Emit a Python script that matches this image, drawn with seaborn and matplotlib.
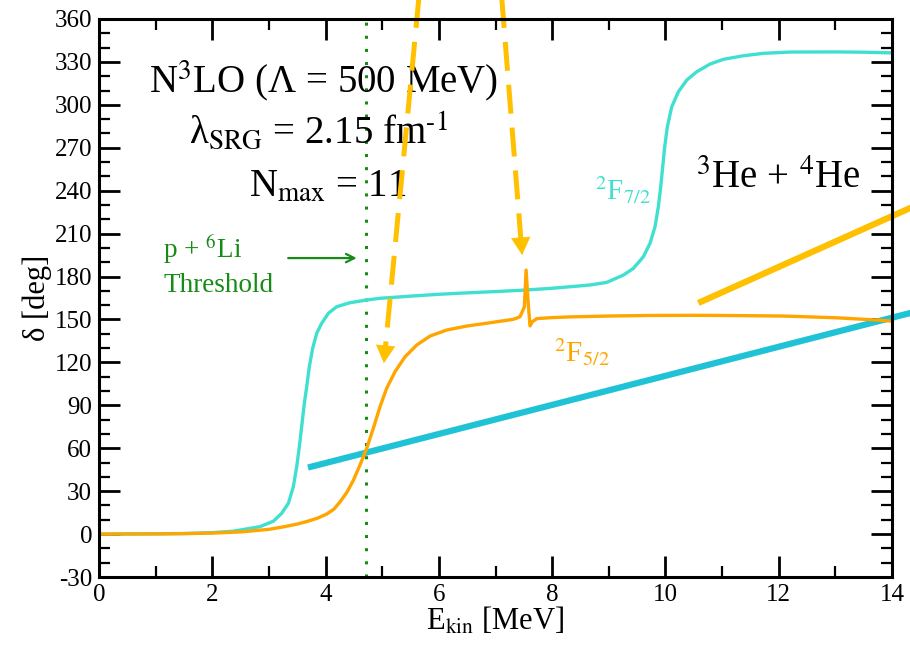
import matplotlib
matplotlib.use("Agg")
import matplotlib.pyplot as plt
import seaborn as sns
import pandas as pd
from matplotlib.ticker import MultipleLocator

# ---------------- data ----------------
f72_x = [0.0, 1.0, 1.5, 2.0, 2.37, 2.489, 2.843, 3.078, 3.225, 3.343, 3.431, 3.490,
         3.537, 3.578, 3.625, 3.667, 3.713, 3.772, 3.843, 3.931, 4.049, 4.196, 4.431,
         4.726, 4.961, 5.5, 6.0, 6.5, 7.0, 7.5, 8.0, 8.5, 8.669, 8.963, 9.257, 9.434,
         9.610, 9.728, 9.816, 9.875, 9.917, 9.952, 9.987, 10.034, 10.111, 10.228,
         10.376, 10.552, 10.787, 11.022, 11.375, 11.729, 12.2, 13.0, 13.5, 14.0]
f72_y = [0.0, 0.2, 0.4, 1.0, 2.0, 2.8, 5.2, 9.0, 14.5, 21.5, 33.1, 47.1,
         61.1, 75.0, 91.4, 103.0, 117.0, 129.8, 140.3, 147.3, 154.3, 158.9, 161.7,
         163.6, 164.8, 166.3, 167.6, 168.6, 169.5, 170.5, 171.8, 173.5, 174.1, 175.9,
         181.0, 185.7, 193.8, 203.2, 214.8, 228.8, 242.8, 256.7, 270.7, 284.7, 298.6,
         309.1, 317.3, 323.1, 328.5, 331.8, 334.3, 336.0, 336.9, 337.0, 336.8, 336.3]

f52_x = [0.0, 1.0, 1.5, 2.0, 2.5, 3.0, 3.25, 3.5, 3.67, 3.85, 4.02, 4.15, 4.255,
         4.373, 4.49, 4.608, 4.726, 4.843, 4.961, 5.079, 5.226, 5.403, 5.609, 5.844,
         6.139, 6.492, 6.903, 7.315, 7.43, 7.46, 7.51, 7.54, 7.58, 7.61, 7.65, 7.73,
         8.0, 8.32, 9.0, 9.73, 10.5, 11.0, 12.08, 13.0, 13.74, 14.0]
f52_y = [0.0, 0.1, 0.3, 0.7, 1.5, 3.3, 5.0, 7.0, 8.8, 11.0, 14.0, 17.5, 22.5,
         29.0, 37.5, 48.3, 59.9, 73.9, 89.0, 101.9, 113.5, 123.9, 132.1, 138.4,
         142.6, 145.4, 147.7, 150.1, 151.8, 154.3, 158.9, 184.5, 160.0, 145.5, 148.4,
         150.6, 151.3, 151.8, 152.4, 152.8, 152.9, 152.8, 152.4, 151.2, 149.6, 148.8]

blue_line_x = [3.69, 14.4]
blue_line_y = [46.5, 155.3]
amber_line_x = [10.58, 14.4]
amber_line_y = [161.5, 229.3]

threshold_x = 4.71

# dashed arrows: (start, tip)
arrow1 = [(5.66, 380.0), (5.03, 119.5)]
arrow2 = [(7.10, 380.0), (7.47, 195.0)]
green_arrow = [(3.34, 192.9), (4.55, 192.9)]

x_ticks = [0, 2, 4, 6, 8, 10, 12, 14]
y_ticks = list(range(-30, 361, 30))

# ---------------- styling ----------------
sns.set_theme(style="ticks")
plt.rcParams['font.family'] = ['Liberation Serif', 'DejaVu Serif']
plt.rcParams['mathtext.fontset'] = 'stix'
plt.rcParams['axes.unicode_minus'] = False
plt.rcParams['text.color'] = 'black'
plt.rcParams['axes.labelcolor'] = 'black'
plt.rcParams['xtick.color'] = 'black'
plt.rcParams['ytick.color'] = 'black'

TURQ = "#40E0D0"
ORANGE = "#FFA500"
BLUE = "#20C3D6"
AMBER = "#FFC000"
GREEN = "#168C16"

fig = plt.figure(figsize=(9.1, 6.48), dpi=100)
ax = fig.add_axes([99 / 910, 1 - 577 / 648, (892 - 99) / 910, (577 - 19) / 648])

df72 = pd.DataFrame({"E": f72_x, "d": f72_y})
df52 = pd.DataFrame({"E": f52_x, "d": f52_y})
dfb = pd.DataFrame({"E": blue_line_x, "d": blue_line_y})
dfa = pd.DataFrame({"E": amber_line_x, "d": amber_line_y})

sns.lineplot(data=dfb, x="E", y="d", ax=ax, color=BLUE, lw=4.5, estimator=None,
             sort=False, clip_on=False, solid_capstyle="butt", zorder=2)
sns.lineplot(data=dfa, x="E", y="d", ax=ax, color=AMBER, lw=4.5, estimator=None,
             sort=False, clip_on=False, solid_capstyle="butt", zorder=2)
sns.lineplot(data=df72, x="E", y="d", ax=ax, color=TURQ, lw=2.4, estimator=None,
             sort=False, zorder=3, solid_joinstyle="round")
sns.lineplot(data=df52, x="E", y="d", ax=ax, color=ORANGE, lw=2.4, estimator=None,
             sort=False, zorder=3, solid_joinstyle="round")

# threshold line
ax.axvline(threshold_x, color=GREEN, lw=2.2, dashes=(1, 3.3), zorder=1)

# dashed arrows
HEAD = 10.0  # head length in degrees along the arrow
for (s, t) in (arrow1, arrow2):
    fr = 1 - HEAD / (s[1] - t[1])
    bx = s[0] + (t[0] - s[0]) * fr
    by = s[1] + (t[1] - s[1]) * fr
    fr2 = 1 - (HEAD + 2) / (s[1] - t[1])
    ex = s[0] + (t[0] - s[0]) * fr2
    ey = s[1] + (t[1] - s[1]) * fr2
    ax.plot([s[0], ex], [s[1], ey], color=AMBER, lw=3.6, dashes=(5.8, 2.8),
            clip_on=False, zorder=4, dash_capstyle="butt")
    ax.annotate("", xy=t, xytext=(bx, by), annotation_clip=False,
                arrowprops=dict(arrowstyle="-|>,head_length=1.0,head_width=0.55",
                                color=AMBER, lw=0.5, shrinkA=0, shrinkB=0), zorder=4)

ax.annotate("", xy=green_arrow[1], xytext=green_arrow[0],
            arrowprops=dict(arrowstyle="->,head_length=0.5,head_width=0.25",
                            color=GREEN, lw=1.6, shrinkA=0, shrinkB=0))

# texts
ax.text(3.96, 309, r"N$^{3}$LO (Λ = 500 MeV)", fontsize=28, ha="center", va="baseline")
ax.text(3.87, 273, r"λ$_{\mathrm{SRG}}$ = 2.15 fm$^{\text{-}1}$", fontsize=28,
        ha="center", va="baseline")
ax.text(4.04, 235.5, r"N$_{\mathrm{max}}$ = 11", fontsize=28, ha="center", va="baseline")
ax.text(11.99, 241.8, r"$^{3}$He + $^{4}$He", fontsize=28, ha="center", va="baseline")
ax.text(1.13, 193, r"p + $^{6}$Li", fontsize=19.5, ha="left", va="baseline", color=GREEN)
ax.text(1.13, 169, "Threshold", fontsize=19.5, ha="left", va="baseline", color=GREEN)
ax.text(9.25, 233.5, r"$^{2}$F$_{7/2}$", fontsize=21, ha="center", va="baseline", color=TURQ)
ax.text(8.53, 120.2, r"$^{2}$F$_{5/2}$", fontsize=21, ha="center", va="baseline",
        color=ORANGE)

# axes
ax.set_xlim(0, 14)
ax.set_ylim(-30, 360)
ax.set_xticks(x_ticks)
ax.set_yticks(y_ticks)
ax.xaxis.set_minor_locator(MultipleLocator(1))
ax.yaxis.set_minor_locator(MultipleLocator(10))
ax.tick_params(which="both", direction="in", top=True, right=True, colors="black",
               labelsize=18)
ax.tick_params(which="major", length=15, width=2, pad=5)
ax.tick_params(which="minor", length=8, width=1.6)
for sp in ax.spines.values():
    sp.set_linewidth(2.2)
    sp.set_color("black")
    sp.set_zorder(5)

ax.set_xlabel(r"E$_{\mathrm{kin}}$ [MeV]", fontsize=22, labelpad=0)
ax.set_ylabel("δ [deg]", fontsize=22, labelpad=2)

fig.savefig("out.png", dpi=100)
